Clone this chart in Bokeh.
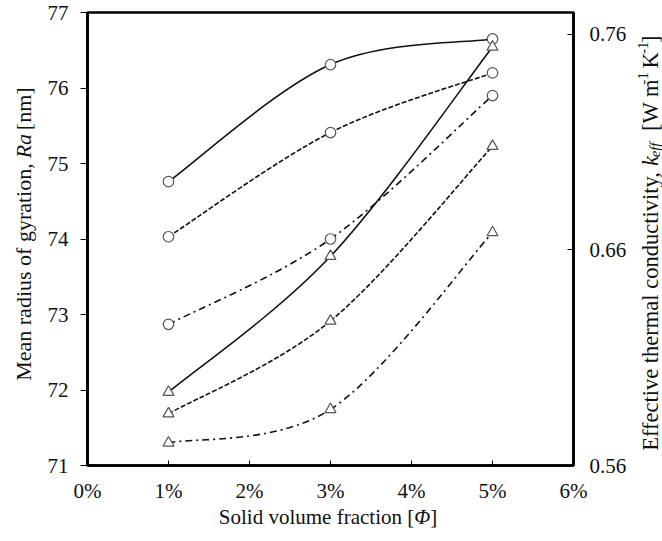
import math
from bokeh.plotting import figure
from bokeh.layouts import row, column
from bokeh.models import Range1d, LinearAxis, FixedTicker, PrintfTickFormatter
from bokeh.core.properties import value
from bokeh.embed import file_html
from bokeh.resources import INLINE

# ---------------- data ----------------
fraction = [1, 3, 5]                       # solid volume fraction [%]
ra_solid = [74.76, 76.31, 76.65]           # circles, solid line (left axis)
ra_dash = [74.03, 75.41, 76.20]            # circles, dashed line
ra_dashdot = [72.87, 74.00, 75.90]         # circles, dash-dot line
k_solid = [0.594, 0.657, 0.754]            # triangles, solid line (right axis)
k_dash = [0.584, 0.627, 0.708]             # triangles, dashed line
k_dashdot = [0.5705, 0.586, 0.668]         # triangles, dash-dot line
x_ticks = [0, 1, 2, 3, 4, 5, 6]
left_ticks = [71, 72, 73, 74, 75, 76, 77]
right_ticks = [0.56, 0.66, 0.76]

FONT = "Liberation Serif"
TXT = "#111111"

# layout sizes (px)
LW, RW = 40, 32          # side title strips
MW, MH = 590, 505        # main figure
BH = 36                  # bottom title strip

p = figure(width=MW, height=MH, x_range=Range1d(0, 6), y_range=Range1d(71, 77),
           output_backend="svg", toolbar_location=None,
           min_border_left=47, min_border_right=57, min_border_top=12, min_border_bottom=38)
p.extra_y_ranges = {"k": Range1d(0.56, 0.77)}
p.grid.visible = False
p.outline_line_color = "black"
p.outline_line_width = 2.7
p.background_fill_color = "white"
p.border_fill_color = "white"


def style_axis(ax, tin, tout, standoff):
    ax.axis_line_color = "black"
    ax.axis_line_width = 2.7
    ax.major_tick_line_color = "black"
    ax.major_tick_line_width = 1
    ax.major_tick_in = tin
    ax.major_tick_out = tout
    ax.minor_tick_line_color = None
    ax.major_label_text_font = FONT
    ax.major_label_text_font_size = "21px"
    ax.major_label_text_color = TXT
    ax.major_label_standoff = standoff


p.xaxis.ticker = FixedTicker(ticks=x_ticks)
p.xaxis.formatter = PrintfTickFormatter(format="%d%%")
style_axis(p.xaxis[0], 5, 0, 13)

p.yaxis.ticker = FixedTicker(ticks=left_ticks)
style_axis(p.yaxis[0], 0, 7, 12)

rax = LinearAxis(y_range_name="k", ticker=FixedTicker(ticks=right_ticks),
                 formatter=PrintfTickFormatter(format="%.2f"))
style_axis(rax, 6, 0, 16)
p.add_layout(rax, "right")


# ---------------- smoothed curves (Catmull-Rom as cubic Bezier) ----------------
def smooth(xs, ys):
    n = len(xs)
    out = dict(x0=[], y0=[], x1=[], y1=[], cx0=[], cy0=[], cx1=[], cy1=[])
    for i in range(n - 1):
        xa, ya = xs[max(i - 1, 0)], ys[max(i - 1, 0)]
        xb, yb = xs[i], ys[i]
        xc, yc = xs[i + 1], ys[i + 1]
        xd, yd = xs[min(i + 2, n - 1)], ys[min(i + 2, n - 1)]
        out["x0"].append(xb); out["y0"].append(yb)
        out["x1"].append(xc); out["y1"].append(yc)
        out["cx0"].append(xb + (xc - xa) / 6); out["cy0"].append(yb + (yc - ya) / 6)
        out["cx1"].append(xc - (xd - xb) / 6); out["cy1"].append(yc - (yd - yb) / 6)
    return out


LINE = "#111111"
MK = "#555555"
series = [
    (ra_solid, "default", "solid", "circle"),
    (ra_dash, "default", "5 2", "circle"),
    (ra_dashdot, "default", "7 4 2 4", "circle"),
    (k_solid, "k", "solid", "triangle"),
    (k_dash, "k", "5 2", "triangle"),
    (k_dashdot, "k", "7 4 2 4", "triangle"),
]
for ys, rng, dash, mk in series:
    p.bezier(line_color=LINE, line_width=1.6, line_dash=dash, y_range_name=rng,
             **smooth(fraction, ys))
for ys, rng, dash, mk in series:
    p.scatter(fraction, ys, marker=mk, size=10.5 if mk == "circle" else 11,
              fill_color="white", line_color=MK, line_width=1.2, y_range_name=rng)


# ---------------- title strips ----------------
def strip(w, h):
    f = figure(width=w, height=h, x_range=Range1d(0, w), y_range=Range1d(0, h),
               output_backend="svg", toolbar_location=None, min_border=0,
               x_axis_type=None, y_axis_type=None)
    f.grid.visible = False
    f.outline_line_color = None
    f.background_fill_color = "white"
    f.border_fill_color = "white"
    return f


WR = {" ": 250, ",": 250, ".": 250, "[": 333, "]": 333, "-": 333,
      "a": 444, "b": 500, "c": 444, "d": 500, "e": 444, "f": 333, "g": 500, "h": 500,
      "i": 278, "j": 278, "k": 500, "l": 278, "m": 778, "n": 500, "o": 500, "p": 500,
      "q": 500, "r": 333, "s": 389, "t": 278, "u": 500, "v": 500, "w": 722, "x": 500,
      "y": 500, "z": 444, "E": 611, "K": 722, "M": 889, "R": 667, "S": 556, "W": 944,
      "1": 500}
WI = {"R": 611, "a": 500, "k": 444, "e": 444, "f": 278, "Φ": 760}


def tw(s, italic):
    tab = WI if italic else WR
    return sum(tab.get(c, 500) for c in s) / 1000.0


def title(f, pieces, F, cx, cy, vertical):
    # pieces: (text, italic, scale, shift_em (+ = up), gap_em_before)
    # the first (long) piece is anchored at its END so that the junction with
    # the styled pieces that follow it does not depend on its rendered length
    total = sum(gap + tw(t, it) * sc for t, it, sc, sh, gap in pieces)
    pos = -total / 2 * F
    for i, (t, it, sc, sh, gap) in enumerate(pieces):
        pos += gap * F
        w = tw(t, it) * sc * F
        a = pos + w if i == 0 else pos
        if vertical:
            x, y, ang = cx - sh * F, cy + a, math.pi / 2
        else:
            x, y, ang = cx + a, cy + sh * F, 0
        f.text(x=[x], y=[y], text=[t], angle=ang,
               text_font=value(FONT), text_font_size=value(f"{F * sc:.1f}px"),
               text_font_style="italic" if it else "normal",
               text_align="right" if i == 0 else "left",
               text_baseline="middle", text_color=TXT)
        pos += w


lf = strip(LW, MH)
title(lf, [("Mean radius of gyration,", False, 1, 0, 0),
           ("Ra", True, 1, 0, 0.25),
           ("[nm]", False, 1, 0, 0.32)], 22, 23, MH - 237, True)

rf = strip(RW, MH)
title(rf, [("Effective thermal conductivity,", False, 1, 0, 0),
           ("k", True, 1, 0, 0.3),
           ("eff", True, 0.65, -0.2, 0),
           ("[W m", False, 1, 0, 0.65),
           ("-1", False, 0.65, 0.35, 0),
           ("K", False, 1, 0, 0.25),
           ("-1", False, 0.65, 0.35, 0),
           ("]", False, 1, 0, 0)], 22.5, 20, MH - 242.5, True)

bf = strip(LW + MW + RW, BH)
title(bf, [("Solid volume fraction [", False, 1, 0, 0),
           ("Φ", True, 1, 0, 0),
           ("]", False, 1, 0, 0)], 21, 327.5, 24.5, False)

layout = column(row(lf, p, rf), bf)
open("out.html", "w").write(file_html(layout, INLINE))
